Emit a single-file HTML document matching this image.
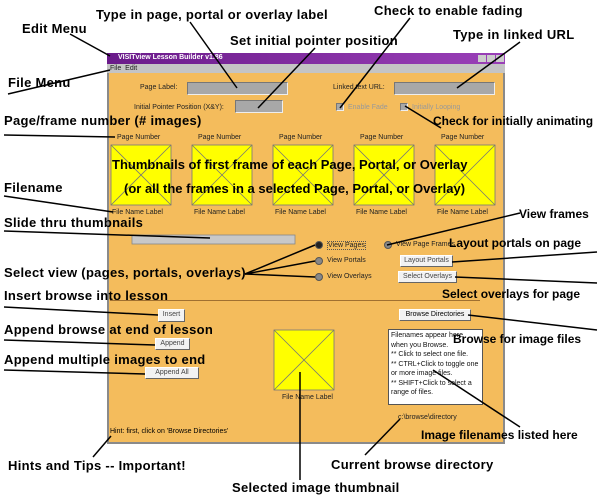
<!DOCTYPE html>
<html><head><meta charset="utf-8"><style>
*{margin:0;padding:0;box-sizing:border-box}
body{width:600px;height:500px;background:#fff;position:relative;overflow:hidden;font-family:"Liberation Sans",sans-serif}
.a{position:absolute;font-weight:bold;font-size:13px;color:#000;white-space:nowrap;letter-spacing:0.3px}
.s{position:absolute;font-size:7px;color:#222;white-space:nowrap}
.f{position:absolute;background:#a8a8a8;border:1px solid #777;border-right-color:#eee;border-bottom-color:#eee}
.b{position:absolute;background:#f2f2f2;border:1px solid #fff;border-right-color:#666;border-bottom-color:#666;font-size:7px;color:#444;text-align:center;line-height:10px}
.r{position:absolute;width:8px;height:8px;border-radius:50%;background:#888;border:1px solid #555}
</style></head><body>
<div style="position:absolute;left:107px;top:53px;width:398px;height:391px;background:#f4bc5c;border:2px solid #8a8a8a;border-top:none"></div>
<div style="position:absolute;left:107px;top:53px;width:398px;height:11px;background:linear-gradient(90deg,#6a1a8a,#9a40b8)"></div>
<div class="s" style="left:118px;top:54px;color:#fff;font-weight:bold">VISITview Lesson Builder v1.86</div>
<div style="position:absolute;left:478px;top:55px;width:8px;height:7px;background:#ccc"></div>
<div style="position:absolute;left:487px;top:55px;width:8px;height:7px;background:#ccc"></div>
<div style="position:absolute;left:496px;top:55px;width:8px;height:7px;background:#ccc"></div>
<div style="position:absolute;left:107px;top:64px;width:398px;height:9px;background:#c4c4c4"></div>
<div class="s" style="left:110px;top:65px">File&nbsp; Edit</div>

<div class="s" style="left:140px;top:84px">Page Label:</div>
<div class="f" style="left:187px;top:82px;width:101px;height:13px"></div>
<div class="s" style="left:333px;top:84px">Linked text URL:</div>
<div class="f" style="left:394px;top:82px;width:101px;height:13px"></div>
<div class="s" style="left:134px;top:104px">Initial Pointer Position (X&amp;Y):</div>
<div class="f" style="left:235px;top:100px;width:48px;height:13px"></div>
<div class="f" style="left:336px;top:103px;width:8px;height:8px"></div>
<div class="s" style="left:348px;top:104px;color:#999">Enable Fade</div>
<div class="f" style="left:400px;top:103px;width:8px;height:8px"></div>
<div class="s" style="left:412px;top:104px;color:#999">Initially Looping</div>

<div class="s" style="left:117px;top:134px">Page Number</div>
<div class="s" style="left:198px;top:134px">Page Number</div>
<div class="s" style="left:279px;top:134px">Page Number</div>
<div class="s" style="left:360px;top:134px">Page Number</div>
<div class="s" style="left:441px;top:134px">Page Number</div>
<svg style="position:absolute;left:0;top:0" width="600" height="500">
<g stroke="#777" stroke-width="0.8">
<rect x="111" y="145" width="60" height="60" fill="#ff0"/><line x1="111" y1="145" x2="171" y2="205"/><line x1="171" y1="145" x2="111" y2="205"/>
<rect x="192" y="145" width="60" height="60" fill="#ff0"/><line x1="192" y1="145" x2="252" y2="205"/><line x1="252" y1="145" x2="192" y2="205"/>
<rect x="273" y="145" width="60" height="60" fill="#ff0"/><line x1="273" y1="145" x2="333" y2="205"/><line x1="333" y1="145" x2="273" y2="205"/>
<rect x="354" y="145" width="60" height="60" fill="#ff0"/><line x1="354" y1="145" x2="414" y2="205"/><line x1="414" y1="145" x2="354" y2="205"/>
<rect x="435" y="145" width="60" height="60" fill="#ff0"/><line x1="435" y1="145" x2="495" y2="205"/><line x1="495" y1="145" x2="435" y2="205"/>
<rect x="274" y="330" width="60" height="60" fill="#ff0"/><line x1="274" y1="330" x2="334" y2="390"/><line x1="334" y1="330" x2="274" y2="390"/>
</g>
<rect x="132" y="235" width="163" height="9" fill="#c8c8c8" stroke="#888" stroke-width="0.8"/>
<rect x="110" y="300" width="370" height="1" fill="#a07030"/>
</svg>
<div class="s" style="left:112px;top:209px">File Name Label</div>
<div class="s" style="left:194px;top:209px">File Name Label</div>
<div class="s" style="left:275px;top:209px">File Name Label</div>
<div class="s" style="left:356px;top:209px">File Name Label</div>
<div class="s" style="left:437px;top:209px">File Name Label</div>

<div class="r" style="left:315px;top:241px;background:#222"></div>
<div class="s" style="left:327px;top:241px;border:1px dotted #555">View Pages</div>
<div class="r" style="left:315px;top:257px"></div>
<div class="s" style="left:327px;top:257px">View Portals</div>
<div class="r" style="left:315px;top:273px"></div>
<div class="s" style="left:327px;top:273px">View Overlays</div>
<div class="r" style="left:384px;top:241px"></div>
<div class="s" style="left:396px;top:241px">View Page Frames</div>
<div class="b" style="left:400px;top:255px;width:53px;height:12px">Layout Portals</div>
<div class="b" style="left:398px;top:271px;width:59px;height:12px">Select Overlays</div>

<div class="b" style="left:158px;top:309px;width:27px;height:13px">Insert</div>
<div class="b" style="left:155px;top:338px;width:35px;height:12px">Append</div>
<div class="b" style="left:145px;top:367px;width:54px;height:12px">Append All</div>
<div class="b" style="left:399px;top:309px;width:72px;height:12px;color:#000">Browse Directories</div>
<div class="s" style="left:282px;top:394px">File Name Label</div>
<div style="position:absolute;left:388px;top:329px;width:95px;height:76px;background:#fff;border:1px solid #555;font-size:7px;line-height:9.5px;padding:1px 2px;color:#111">Filenames appear here when you Browse.<br>** Click to select one file.<br>** CTRL+Click to toggle one or more image files.<br>** SHIFT+Click to select a range of files.</div>
<div class="s" style="left:398px;top:414px">c:\browse\directory</div>
<div class="s" style="left:110px;top:428px;color:#000">Hint: first, click on 'Browse Directories'</div>

<svg style="position:absolute;left:0;top:0" width="600" height="500" stroke="#000" stroke-width="1.5" fill="none">
<line x1="70" y1="34" x2="110" y2="56"/>
<line x1="190" y1="22" x2="237" y2="88"/>
<line x1="410" y1="18" x2="340" y2="108"/>
<line x1="315" y1="48" x2="258" y2="108"/>
<line x1="520" y1="42" x2="457" y2="88"/>
<line x1="8" y1="94" x2="110" y2="70"/>
<line x1="4" y1="135" x2="115" y2="137"/>
<line x1="441" y1="128" x2="405" y2="106"/>
<line x1="4" y1="196" x2="113" y2="212"/>
<line x1="4" y1="231" x2="210" y2="238"/>
<line x1="520" y1="213" x2="387" y2="245"/>
<line x1="597" y1="252" x2="452" y2="262"/>
<line x1="245" y1="274" x2="315" y2="245"/>
<line x1="245" y1="274" x2="315" y2="261"/>
<line x1="245" y1="274" x2="315" y2="277"/>
<line x1="597" y1="283" x2="455" y2="277"/>
<line x1="4" y1="307" x2="158" y2="315"/>
<line x1="4" y1="340" x2="155" y2="345"/>
<line x1="4" y1="370" x2="145" y2="374"/>
<line x1="597" y1="330" x2="468" y2="315"/>
<line x1="520" y1="427" x2="433" y2="370"/>
<line x1="93" y1="457" x2="111" y2="436"/>
<line x1="365" y1="455" x2="400" y2="419"/>
<line x1="300" y1="480" x2="300" y2="372"/>
</svg>

<div class="a" style="left:22px;top:21px">Edit Menu</div>
<div class="a" style="left:96px;top:7px">Type in page, portal or overlay label</div>
<div class="a" style="left:374px;top:3px">Check to enable fading</div>
<div class="a" style="left:230px;top:33px">Set initial pointer position</div>
<div class="a" style="left:453px;top:27px">Type in linked URL</div>
<div class="a" style="left:8px;top:75px">File Menu</div>
<div class="a" style="left:4px;top:113px">Page/frame number (# images)</div>
<div class="a" style="left:433px;top:114px;font-size:12px;letter-spacing:0">Check for initially animating</div>
<div class="a" style="left:112px;top:157px;letter-spacing:0">Thumbnails of first frame of each Page, Portal, or Overlay</div>
<div class="a" style="left:124px;top:181px;letter-spacing:0">(or all the frames in a selected Page, Portal, or Overlay)</div>
<div class="a" style="left:4px;top:180px">Filename</div>
<div class="a" style="left:4px;top:215px">Slide thru thumbnails</div>
<div class="a" style="left:519px;top:207px;font-size:12px;letter-spacing:0">View frames</div>
<div class="a" style="left:449px;top:236px;font-size:12px;letter-spacing:0">Layout portals on page</div>
<div class="a" style="left:4px;top:265px">Select view (pages, portals, overlays)</div>
<div class="a" style="left:442px;top:287px;font-size:12px;letter-spacing:0">Select overlays for page</div>
<div class="a" style="left:4px;top:288px">Insert browse into lesson</div>
<div class="a" style="left:4px;top:322px">Append browse at end of lesson</div>
<div class="a" style="left:4px;top:352px">Append multiple images to end</div>
<div class="a" style="left:453px;top:332px;font-size:12px;letter-spacing:0">Browse for image files</div>
<div class="a" style="left:421px;top:428px;font-size:12px;letter-spacing:0">Image filenames listed here</div>
<div class="a" style="left:8px;top:458px">Hints and Tips -- Important!</div>
<div class="a" style="left:331px;top:457px">Current browse directory</div>
<div class="a" style="left:232px;top:480px">Selected image thumbnail</div>
</body></html>
